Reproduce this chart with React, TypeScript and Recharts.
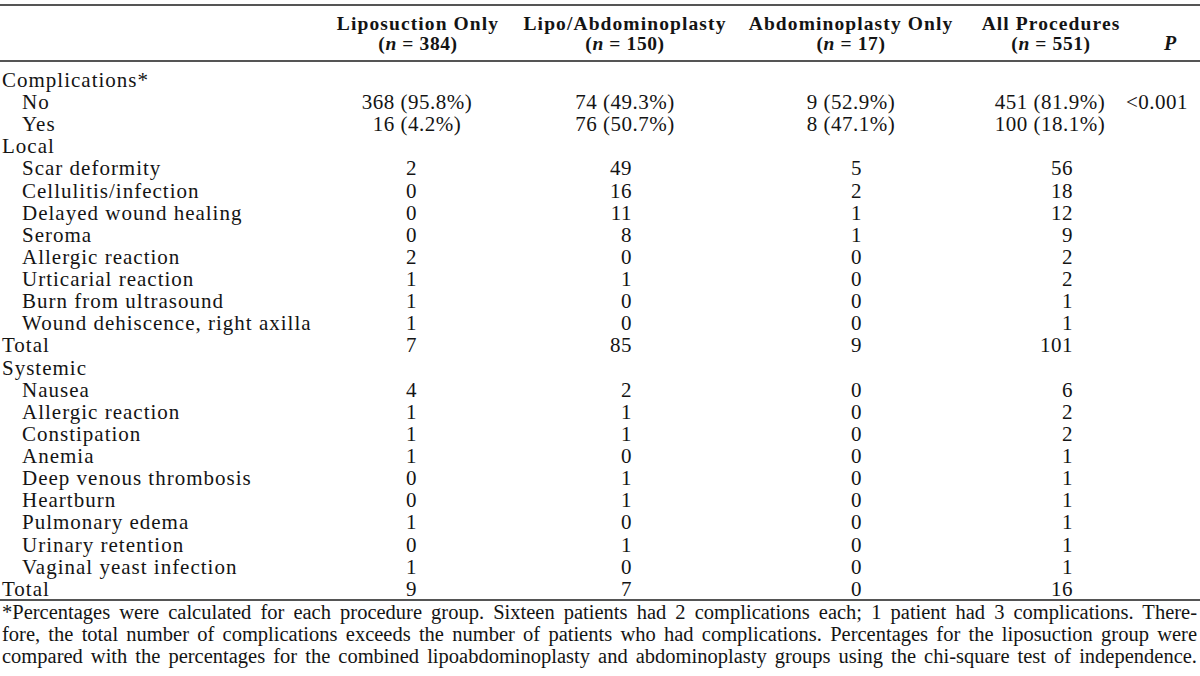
import React from "react";
import { ComposedChart, Scatter, XAxis, YAxis } from "recharts";

document.body.style.margin = "0";

const ROW_LABELS = [
  "Complications*",
  "No",
  "Yes",
  "Local",
  "Scar deformity",
  "Cellulitis/infection",
  "Delayed wound healing",
  "Seroma",
  "Allergic reaction",
  "Urticarial reaction",
  "Burn from ultrasound",
  "Wound dehiscence, right axilla",
  "Total",
  "Systemic",
  "Nausea",
  "Allergic reaction",
  "Constipation",
  "Anemia",
  "Deep venous thrombosis",
  "Heartburn",
  "Pulmonary edema",
  "Urinary retention",
  "Vaginal yeast infection",
  "Total",
];
const ROW_LEVEL = [0, 1, 1, 0, 1, 1, 1, 1, 1, 1, 1, 1, 0, 0, 1, 1, 1, 1, 1, 1, 1, 1, 1, 0];

const COLUMN_NAMES = ["Liposuction Only", "Lipo/Abdominoplasty", "Abdominoplasty Only", "All Procedures", "P"];
const COLUMN_N = ["384", "150", "17", "551", ""];

const LIPO_ONLY = ["", "368 (95.8%)", "16 (4.2%)", "", "2", "0", "0", "0", "2", "1", "1", "1", "7", "", "4", "1", "1", "1", "0", "0", "1", "0", "1", "9"];
const LIPO_ABDO = ["", "74 (49.3%)", "76 (50.7%)", "", "49", "16", "11", "8", "0", "1", "0", "0", "85", "", "2", "1", "1", "0", "1", "1", "0", "1", "0", "7"];
const ABDO_ONLY = ["", "9 (52.9%)", "8 (47.1%)", "", "5", "2", "1", "1", "0", "0", "0", "0", "9", "", "0", "0", "0", "0", "0", "0", "0", "0", "0", "0"];
const ALL_PROCS = ["", "451 (81.9%)", "100 (18.1%)", "", "56", "18", "12", "9", "2", "2", "1", "1", "101", "", "6", "2", "2", "1", "1", "1", "1", "1", "1", "16"];
const P_VALUES = ["", "<0.001", "", "", "", "", "", "", "", "", "", "", "", "", "", "", "", "", "", "", "", "", "", ""];

const FOOTNOTE = [
  "*Percentages were calculated for each procedure group. Sixteen patients had 2 complications each; 1 patient had 3 complications. There-",
  "fore, the total number of complications exceeds the number of patients who had complications. Percentages for the liposuction group were",
  "compared with the percentages for the combined lipoabdominoplasty and abdominoplasty groups using the chi-square test of independence.",
];

// layout (table units == px across the 1200 wide page)
const LABEL_X = 2;
const INDENT = 20;
const COL_CENTER = [417, 625, 851, 1050, 1157];
const HEAD_SHIFT = [1, 0, 0, 1, 13];
const NUM_SHIFT = [0, 7, 11, 23, 0];
const FONT = "'Liberation Serif', 'Times New Roman', serif";
const INK = "#141414";
const RULE = "#555";

const columns = [LIPO_ONLY, LIPO_ABDO, ABDO_ONLY, ALL_PROCS, P_VALUES];

const labelData = ROW_LABELS.map((text, r) => ({ x: LABEL_X, y: r, text, level: ROW_LEVEL[r] }));

const cellData = columns.map((vals, c) =>
  vals
    .map((text, r) => ({ x: COL_CENTER[c], y: r, text }))
    .filter((d) => d.text !== "")
);

const HeadTick = ({ x, index }: any) => {
  const name = COLUMN_NAMES[index];
  const n = COLUMN_N[index];
  if (!n) {
    return (
      <text x={x} y={50} textAnchor="middle" fontWeight="bold" fontStyle="italic" fill={INK} fontSize={20}>
        {name}
      </text>
    );
  }
  return (
    <g fill={INK} fontSize={19.5} fontWeight="bold">
      <text x={x} y={30} textAnchor="middle" letterSpacing={1.1}>
        {name}
      </text>
      <text x={x} y={50} textAnchor="middle" letterSpacing={0.6}>
        (<tspan fontStyle="italic">n</tspan> = {n})
      </text>
    </g>
  );
};

const LabelCell = (props: any) => {
  const { cx, cy, payload } = props;
  return (
    <text x={cx + payload.level * INDENT} y={cy} dy="0.35em" textAnchor="start" fill={INK} fontSize={21} letterSpacing={1}>
      {payload.text}
    </text>
  );
};

const makeCell = (c: number) => (props: any) => {
  const { cx, cy, payload } = props;
  const isCount = /^\d+$/.test(payload.text);
  return (
    <text
      x={isCount ? cx + NUM_SHIFT[c] : cx}
      y={cy}
      dy="0.35em"
      textAnchor={isCount ? "end" : "middle"}
      fill={INK}
      fontSize={21}
      letterSpacing={0.5}
    >
      {payload.text}
    </text>
  );
};

export default function App() {
  return (
    <div style={{ position: "relative", width: 1200, height: 676, background: "#fff", fontFamily: FONT, color: INK }}>
      <div style={{ position: "absolute", left: 0, top: 4, width: 1200, height: 2, background: RULE }} />
      <div style={{ position: "absolute", left: 0, top: 0 }}>
        <ComposedChart width={1200} height={606} margin={{ top: 0, right: 0, bottom: 0, left: 0 }}>
          <XAxis
            xAxisId="head"
            orientation="top"
            type="number"
            dataKey="x"
            domain={[0, 1200]}
            allowDataOverflow
            height={61}
            ticks={COL_CENTER.map((v, i) => v + HEAD_SHIFT[i])}
            interval={0}
            tick={<HeadTick />}
            tickLine={false}
            axisLine={{ stroke: RULE, strokeWidth: 2 }}
          />
          <XAxis
            xAxisId="foot"
            orientation="bottom"
            type="number"
            domain={[0, 1200]}
            allowDataOverflow
            height={6}
            tick={false}
            tickLine={false}
            axisLine={{ stroke: RULE, strokeWidth: 2 }}
          />
          <YAxis
            type="number"
            dataKey="y"
            domain={[-0.84, 23.52]}
            allowDataOverflow
            reversed
            hide
          />
          <Scatter xAxisId="head" data={labelData} shape={LabelCell} isAnimationActive={false} />
          {cellData.map((data, c) => (
            <Scatter
              key={c}
              xAxisId="head"
              data={data}
              shape={makeCell(c)}
              isAnimationActive={false}
            />
          ))}
        </ComposedChart>
      </div>
      <div style={{ position: "absolute", left: 2, top: 601, width: 1195, fontSize: 20.5, lineHeight: "22px" }}>
        {FOOTNOTE.map((line, i) => (
          <div key={i} style={{ textAlign: "justify", textAlignLast: "justify", whiteSpace: "nowrap" }}>
            {line}
          </div>
        ))}
      </div>
    </div>
  );
}
